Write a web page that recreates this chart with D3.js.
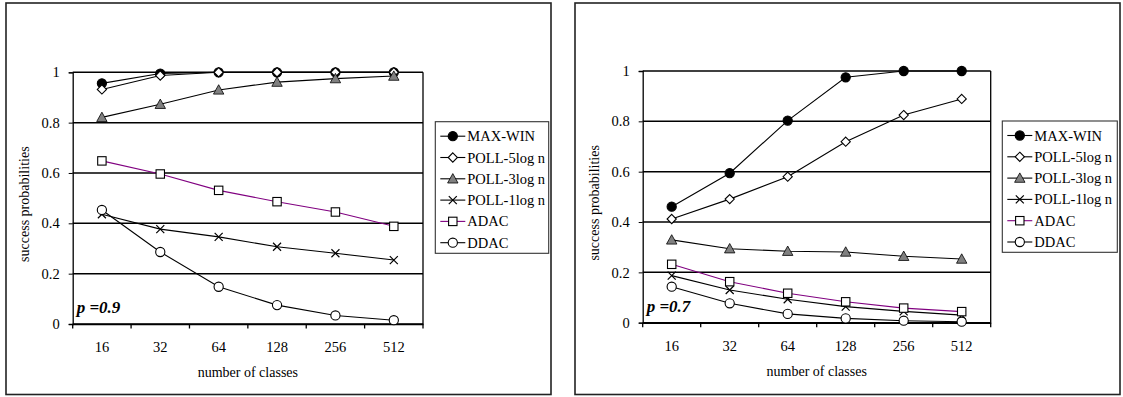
<!DOCTYPE html>
<html><head><meta charset="utf-8">
<script src="https://cdn.jsdelivr.net/npm/d3@7"></script>
<style>body{margin:0;background:#fff}svg{display:block}text{font-family:"Liberation Serif","Times New Roman",serif;fill:#000}</style>
</head><body><svg id="c" width="1123" height="397"></svg>
<script>
const categories = ["16","32","64","128","256","512"];
const seriesNames = ["MAX-WIN","POLL-5log n","POLL-3log n","POLL-1log n","ADAC","DDAC"];
const yTicks = [0,0.2,0.4,0.6,0.8,1];
// p = 0.9
const maxWin9  = [0.956,0.995,1.0,1.0,1.0,1.0];
const poll5_9  = [0.932,0.987,1.0,1.0,1.0,1.0];
const poll3_9  = [0.821,0.873,0.930,0.961,0.975,0.985];
const poll1_9  = [0.436,0.377,0.346,0.307,0.281,0.254];
const adac9    = [0.648,0.596,0.531,0.486,0.445,0.388];
const ddac9    = [0.453,0.286,0.148,0.075,0.034,0.015];
// p = 0.7
const maxWin7  = [0.461,0.594,0.803,0.975,1.0,1.0];
const poll5_7  = [0.412,0.491,0.580,0.719,0.825,0.889];
const poll3_7  = [0.329,0.294,0.284,0.281,0.264,0.253];
const poll1_7  = [0.187,0.130,0.093,0.064,0.045,0.030];
const adac7    = [0.232,0.163,0.117,0.083,0.058,0.044];
const ddac7    = [0.143,0.077,0.035,0.017,0.008,0.004];

const styles = [
  {shape:"circle", fill:"#000", stroke:"#000", line:"#000"},
  {shape:"diamond", fill:"#fff", stroke:"#000", line:"#000"},
  {shape:"triangle", fill:"#808080", stroke:"#000", line:"#000"},
  {shape:"cross", fill:"none", stroke:"#000", line:"#000"},
  {shape:"square", fill:"#fff", stroke:"#000", line:"#800080"},
  {shape:"circle", fill:"#fff", stroke:"#000", line:"#000"}
];
const svg = d3.select("#c");

function marker(g, st, x, y){
  const s = st.shape;
  if(s==="circle"){
    g.append("circle").attr("cx",x).attr("cy",y).attr("r",4.6).attr("fill",st.fill).attr("stroke",st.stroke).attr("stroke-width",1.1);
  } else if(s==="diamond"){
    g.append("path").attr("d",`M${x},${y-4.6}L${x+4.6},${y}L${x},${y+4.6}L${x-4.6},${y}Z`).attr("fill",st.fill).attr("stroke",st.stroke).attr("stroke-width",1.1);
  } else if(s==="triangle"){
    g.append("path").attr("d",`M${x},${y-5.2}L${x+5.2},${y+4.2}L${x-5.2},${y+4.2}Z`).attr("fill",st.fill).attr("stroke",st.stroke).attr("stroke-width",0.8);
  } else if(s==="square"){
    g.append("rect").attr("x",x-4.2).attr("y",y-4.2).attr("width",8.4).attr("height",8.4).attr("fill",st.fill).attr("stroke",st.stroke).attr("stroke-width",1.1);
  } else if(s==="cross"){
    g.append("path").attr("d",`M${x-4},${y-4}L${x+4},${y+4}M${x-4},${y+4}L${x+4},${y-4}`).attr("stroke",st.stroke).attr("stroke-width",1.2);
  }
}

function panel(cfg, data, label){
  const g = svg.append("g");
  g.append("rect").attr("x",cfg.bx0).attr("y",cfg.by0).attr("width",cfg.bx1-cfg.bx0).attr("height",cfg.by1-cfg.by0)
    .attr("fill","#fff").attr("stroke","#222").attr("stroke-width",1.6);
  const x = d3.scaleBand().domain(categories).range([cfg.x0,cfg.x1]);
  const y = d3.scaleLinear().domain([0,1]).range([cfg.yb,cfg.yt]);
  g.selectAll(".grid").data(yTicks).join("line")
    .attr("x1",cfg.x0).attr("x2",cfg.x1).attr("y1",d=>y(d)).attr("y2",d=>y(d))
    .attr("stroke","#000").attr("stroke-width",1.5);
  g.append("line").attr("x1",cfg.x1).attr("x2",cfg.x1).attr("y1",y(1)).attr("y2",y(0)).attr("stroke","#000").attr("stroke-width",1.3);
  const ya = d3.axisLeft(y).tickValues(yTicks).tickSize(4).tickPadding(9).tickFormat(d=>d===0?"0":d===1?"1":d3.format(".1f")(d));
  const yg = g.append("g").attr("transform",`translate(${cfg.x0},0)`).call(ya);
  yg.attr("font-family",null).attr("font-size",null);
  yg.select(".domain").attr("stroke","#000").attr("stroke-width",1.3);
  yg.selectAll("text").style("font-size","14.5px");
  const xa = d3.axisBottom(x).tickSize(0).tickPadding(18);
  const xg = g.append("g").attr("transform",`translate(0,${cfg.yb})`).call(xa);
  xg.attr("font-family",null).attr("font-size",null);
  xg.select(".domain").attr("stroke","#000").attr("stroke-width",1.5);
  xg.selectAll("text").style("font-size","14.5px");
  const bounds = categories.map(c=>x(c)).concat([cfg.x1]);
  g.selectAll(".xt").data(bounds).join("line").attr("x1",d=>d).attr("x2",d=>d)
    .attr("y1",cfg.yb).attr("y2",cfg.yb+4.5).attr("stroke","#000").attr("stroke-width",1.3);
  const cx = c=>x(c)+x.bandwidth()/2;
  data.forEach((vals,i)=>{
    const st = styles[i];
    const line = d3.line().x((d,j)=>cx(categories[j])).y(d=>y(d));
    g.append("path").datum(vals).attr("d",line).attr("fill","none").attr("stroke",st.line).attr("stroke-width",1.1);
  });
  data.forEach((vals,i)=>{
    const mg = g.append("g");
    vals.forEach((v,j)=>marker(mg,styles[i],cx(categories[j]),y(v)));
  });
  g.append("text").attr("x",(cfg.x0+cfg.x1)/2).attr("y",cfg.yb+53).attr("text-anchor","middle")
    .style("font-size","14px").text("number of classes");
  g.append("text").attr("transform",`translate(${cfg.x0-44},${(cfg.yt+cfg.yb)/2+6}) rotate(-90)`).attr("text-anchor","middle")
    .style("font-size","14px").text("success probabilities");
  const pl = g.append("text").attr("x",cfg.x0+4).attr("y",cfg.yb-11).style("font-size","17px").style("font-weight","700").style("font-style","italic");
  pl.append("tspan").text("p");
  pl.append("tspan").text(" =" + label);
  const lg = g.append("g");
  lg.append("rect").attr("x",cfg.lx0).attr("y",cfg.ly0).attr("width",cfg.lx1-cfg.lx0).attr("height",cfg.ly1-cfg.ly0)
    .attr("fill","#fff").attr("stroke","#333").attr("stroke-width",1.1);
  seriesNames.forEach((n,i)=>{
    const yy = cfg.ly0+14.5+i*21.3;
    const st = styles[i];
    lg.append("line").attr("x1",cfg.lx0+5).attr("x2",cfg.lx0+30).attr("y1",yy).attr("y2",yy).attr("stroke",st.line).attr("stroke-width",1.1);
    marker(lg,st,cfg.lx0+17.5,yy);
    lg.append("text").attr("x",cfg.lx0+32).attr("y",yy+5).style("font-size","14.5px").text(n);
  });
}

panel({bx0:6,bx1:551,by0:3,by1:394.5,x0:72.7,x1:423,yt:72.3,yb:324,lx0:435.3,lx1:548.7,ly0:121.7,ly1:253.3},
  [maxWin9,poll5_9,poll3_9,poll1_9,adac9,ddac9],"0.9");
panel({bx0:575,bx1:1120,by0:3,by1:394.5,x0:642.7,x1:990.7,yt:71,yb:322.7,lx0:1002.3,lx1:1117.3,ly0:121,ly1:252.3},
  [maxWin7,poll5_7,poll3_7,poll1_7,adac7,ddac7],"0.7");
</script></body></html>
